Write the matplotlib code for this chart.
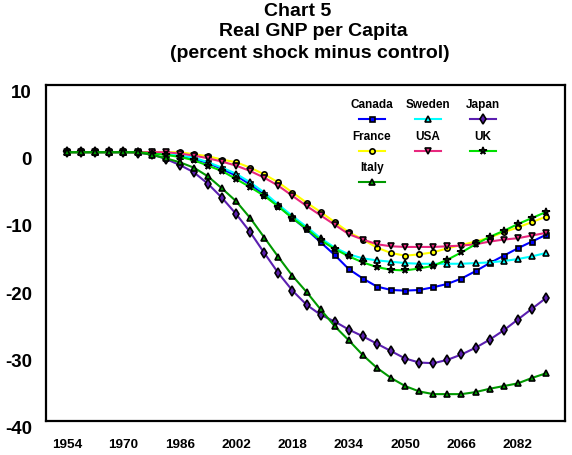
import matplotlib
matplotlib.use("Agg")
import matplotlib.pyplot as plt
import matplotlib.transforms as mtransforms
from matplotlib.lines import Line2D

plt.rcParams["font.family"] = ["Liberation Sans", "DejaVu Sans"]
plt.rcParams["font.weight"] = "bold"

# years, one marker every 4 years
years = list(range(1954, 2091, 4))
tick_years = [1954, 1970, 1986, 2002, 2018, 2034, 2050, 2066, 2082]
y_ticks = [10, 0, -10, -20, -30, -40]

canada = [0, 0, 0, 0, 0, 0, -0.1, -0.3, -0.6, -1.0, -1.6, -2.5, -3.5, -4.8, -6.3, -8.0, -9.8,
          -11.5, -13.4, -15.3, -17.4, -18.8, -20.0, -20.5, -20.6, -20.5, -20.1, -19.6, -18.8,
          -17.7, -16.5, -15.4, -14.3, -13.3, -12.3]
sweden = [0, 0, 0, 0, 0, 0, -0.1, -0.3, -0.5, -0.8, -1.5, -2.3, -3.2, -4.5, -6.0, -7.8, -9.5,
          -11.1, -12.8, -14.2, -15.2, -15.8, -16.1, -16.3, -16.5, -16.6, -16.6, -16.6, -16.6,
          -16.5, -16.4, -16.2, -15.9, -15.5, -15.0]
japan = [0, 0, 0, 0, 0, -0.1, -0.3, -1.0, -1.9, -3.0, -4.7, -6.8, -9.2, -11.9, -15.0, -18.0,
         -20.6, -22.7, -24.2, -25.2, -26.4, -27.4, -28.5, -29.6, -30.7, -31.3, -31.4, -30.9,
         -30.1, -29.1, -27.9, -26.5, -24.9, -23.3, -21.7]
france = [0, 0, 0, 0, 0, 0, 0, 0, 0, -0.3, -0.6, -1.1, -1.5, -2.3, -3.3, -4.5, -6.0, -7.5,
          -8.9, -10.4, -11.9, -13.0, -14.2, -15.0, -15.4, -15.2, -14.9, -14.3, -13.8, -13.3,
          -12.7, -11.9, -11.2, -10.4, -9.6]
usa = [0, 0, 0, 0, 0, 0, 0, 0, -0.2, -0.5, -0.9, -1.4, -2.0, -2.8, -3.8, -5.0, -6.5, -8.0,
       -9.4, -10.8, -12.2, -13.0, -13.7, -14.0, -14.1, -14.1, -14.1, -14.0, -13.9, -13.7,
       -13.3, -13.0, -12.8, -12.4, -12.0]
uk = [0, 0, 0, 0, 0, 0, -0.2, -0.4, -0.7, -1.2, -2.0, -2.8, -4.0, -5.2, -6.5, -8.1, -9.8,
      -11.4, -13.1, -14.4, -15.5, -16.4, -17.1, -17.5, -17.6, -17.3, -16.9, -16.0, -14.9,
      -13.7, -12.6, -11.7, -10.7, -9.8, -8.9]
italy = [0, 0, 0, 0, 0, 0, -0.4, -0.9, -1.5, -2.3, -3.6, -5.4, -7.3, -9.8, -12.7, -15.6,
         -18.4, -20.8, -23.4, -25.9, -28.0, -30.2, -32.1, -33.6, -34.8, -35.6, -36.0, -36.0,
         -36.0, -35.7, -35.2, -34.8, -34.4, -33.6, -32.9]

series = [
    ("Canada", canada, "#0000FF", "s"),
    ("Sweden", sweden, "#00FFFF", "^"),
    ("Japan", japan, "#5B1FB0", "d"),
    ("France", france, "#FFFF00", "o"),
    ("USA", usa, "#E8287E", "v"),
    ("UK", uk, "#00E000", "*"),
    ("Italy", italy, "#009900", "^"),
]
MS = {"s": 3.6, "^": 4.0, "d": 4.6, "o": 3.8, "v": 4.0, "*": 5.5}

fig = plt.figure(figsize=(5.72, 4.56), dpi=100)
ax = fig.add_axes([46 / 572, 1 - 422 / 456, (565 - 46) / 572, (422 - 86) / 456])

for name, vals, col, mk in series:
    ax.plot(years, vals, color=col, lw=1.5, marker=mk, ms=MS[mk],
            mfc=col, mec="black", mew=1.2, zorder=3)

ax.set_xlim(1948, 2095.4)
ax.set_ylim(-40, 10)
ax.set_xticks(tick_years)
ax.set_xticklabels([str(t) for t in tick_years], fontsize=9.7, fontweight="bold")
ax.set_yticks(y_ticks)
ax.set_yticklabels([str(t) for t in y_ticks], fontsize=13.5, fontweight="bold")
ax.tick_params(axis="both", length=0)
ax.tick_params(axis="x", pad=12)
ax.tick_params(axis="y", pad=10)
offset = mtransforms.ScaledTranslation(0, -4 / 72, fig.dpi_scale_trans)
for lab in ax.get_yticklabels():
    lab.set_transform(lab.get_transform() + offset)
for sp in ax.spines.values():
    sp.set_linewidth(1.6)
    sp.set_color("black")

# title, three lines
def px(x, y):
    return x / 572, 1 - y / 456

for txt, (cx, cy) in [("Chart 5", (298, 11)), ("Real GNP per Capita", (313, 32)),
                      ("(percent shock minus control)", (310, 53))]:
    fig.text(*px(cx, cy), txt, ha="center", va="center", fontsize=14, fontweight="bold")

# legend: label above a short line sample with marker
leg_pos = [(372, 105), (428, 105), (483, 105), (372, 137), (428, 137), (483, 137), (372, 168)]
for (name, vals, col, mk), (cx, cy) in zip(series, leg_pos):
    fig.text(*px(cx, cy), name, ha="center", va="center", fontsize=8.5, fontweight="bold")
    x0, yl = px(cx - 13, cy + 15)
    x1, _ = px(cx + 13, cy + 15)
    xm, _ = px(cx, cy + 15)
    fig.add_artist(Line2D([x0, x1], [yl, yl], transform=fig.transFigure, color=col, lw=1.5))
    fig.add_artist(Line2D([xm], [yl], transform=fig.transFigure, marker=mk, ms=MS[mk],
                          mfc=col, mec="black", mew=1.2, lw=0))

fig.savefig("out.png", dpi=100, facecolor="white")
